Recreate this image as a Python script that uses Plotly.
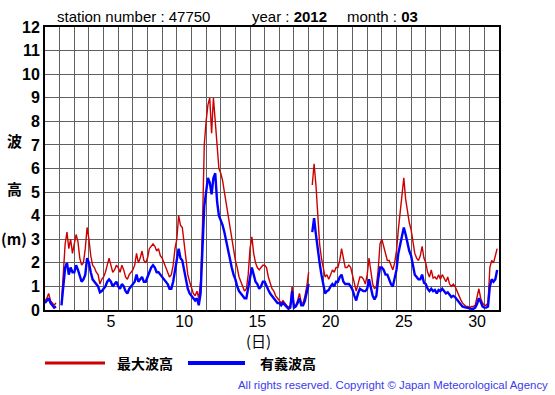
import plotly.graph_objects as go

# ---- data (3-hourly, day 1 00:00 .. day 31 21:00) ----
max_wave = [
    0.4, 0.5, 0.7, 0.4, 0.3, 0.2, 0.3, None,      # 1
    None, 0.3, 1.6, 2.8, 3.3, 2.6, 3.0, 2.4,      # 2
    2.8, 3.2, 2.9, 2.2, 1.9, 2.0, 2.6, 3.5,       # 3
    3.0, 2.3, 1.9, 1.8, 1.6, 1.5, 1.1, 1.3,       # 4
    1.4, 1.6, 1.9, 2.2, 1.9, 1.6, 1.7, 1.9,       # 5
    1.8, 1.6, 1.9, 1.7, 1.4, 1.3, 1.5, 1.6,       # 6
    1.7, 1.9, 2.4, 2.0, 2.2, 2.5, 2.1, 2.0,       # 7
    2.2, 2.6, 2.7, 2.8, 2.7, 2.5, 2.6, 2.3,       # 8
    2.2, 2.0, 1.8, 1.6, 1.4, 1.5, 1.9, 2.6,       # 9
    3.0, 4.0, 3.6, 3.5, 2.8, 2.0, 1.5, 1.2,       # 10
    0.9, 0.7, 0.6, 0.8, 0.5, 1.2, 3.5, 7.0,       # 11
    8.0, 8.7, 9.0, 7.5, 9.0, 8.0, 7.0, 6.0,       # 12
    5.8, 5.5, 5.0, 4.5, 4.0, 3.5, 3.0, 2.5,       # 13
    2.1, 1.8, 1.4, 1.2, 1.0, 0.8, 0.9, 1.5,       # 14
    2.6, 3.1, 2.4, 2.0, 1.8, 1.7, 1.8, 1.9,       # 15
    1.9, 1.8, 1.4, 1.1, 0.9, 0.8, 0.6, 0.5,       # 16
    0.4, 0.3, 0.4, 0.3, 0.15, 0.1, 0.2, 1.0,      # 17
    0.15, 0.2, 0.4, 0.7, 0.3, 0.3, 0.6, 1.0,      # 18
    1.6, None, 5.3, 6.2, 5.3, 3.8, 2.8, 2.2,      # 19
    1.7, 1.4, 1.5, 1.3, 1.5, 1.7, 1.6, 1.8,       # 20
    1.8, 2.1, 2.6, 2.2, 1.8, 1.8, 1.9, 1.8,       # 21
    1.5, 1.1, 0.8, 1.1, 1.4, 1.4, 1.3, 1.1,       # 22
    1.5, 2.2, 1.7, 1.1, 0.9, 1.0, 1.7, 2.8,       # 23
    3.0, 2.7, 2.4, 2.1, 2.1, 1.9, 1.7, 2.0,       # 24
    2.5, 3.4, 4.1, 4.8, 5.6, 4.7, 4.1, 3.7,       # 25
    3.4, 2.8, 2.4, 2.2, 2.1, 2.3, 2.7, 2.2,       # 26
    2.0, 1.6, 1.4, 1.7, 1.35, 1.4, 1.3, 1.5,      # 27
    1.3, 1.5, 1.35, 1.2, 1.4, 1.1, 1.0, 1.1,      # 28
    1.0, 0.8, 0.65, 0.45, 0.3, 0.2, 0.15, 0.15,   # 29
    0.1, 0.15, 0.15, 0.2, 0.5, 0.9, 0.5, 0.3,     # 30
    0.2, 0.2, 0.3, 1.8, 2.1, 2.0, 2.3, 2.6,       # 31
]

sig_wave = [
    0.3, 0.4, 0.5, 0.3, 0.2, 0.1, 0.15, None,     # 1
    None, 0.2, 1.2, 1.8, 2.0, 1.5, 1.8, 1.6,      # 2
    1.6, 1.9, 1.7, 1.4, 1.2, 1.3, 1.5, 2.2,       # 3
    2.0, 1.6, 1.3, 1.2, 1.1, 1.0, 0.75, 0.8,      # 4
    0.9, 1.0, 1.2, 1.3, 1.2, 1.0, 1.1, 1.2,       # 5
    1.0, 0.9, 1.1, 1.0, 0.8, 0.7, 0.9, 1.0,       # 6
    1.1, 1.2, 1.5, 1.2, 1.3, 1.4, 1.2, 1.2,       # 7
    1.4, 1.6, 1.8, 1.9, 1.8, 1.6, 1.6, 1.5,       # 8
    1.4, 1.3, 1.2, 1.1, 0.9, 0.9, 1.2, 1.7,       # 9
    2.2, 2.6, 2.2, 2.1, 1.7, 1.2, 0.9, 0.7,       # 10
    0.6, 0.5, 0.4, 0.5, 0.2, 0.7, 2.5, 4.4,       # 11
    5.0, 5.6, 5.4, 4.9, 5.6, 5.8, 4.6, 4.0,       # 12
    3.8, 3.6, 3.3, 2.9, 2.6, 2.2, 1.8, 1.5,       # 13
    1.3, 1.0, 0.8, 0.7, 0.6, 0.5, 0.5, 1.0,       # 14
    1.4, 1.8, 1.5, 1.2, 1.1, 0.9, 1.0, 1.2,       # 15
    1.2, 1.0, 0.85, 0.7, 0.6, 0.5, 0.4, 0.3,      # 16
    0.3, 0.2, 0.3, 0.2, 0.1, 0.05, 0.1, 0.8,      # 17
    0.1, 0.15, 0.3, 0.5, 0.2, 0.2, 0.4, 0.7,      # 18
    1.1, None, 3.3, 3.9, 3.2, 2.5, 2.0, 1.5,      # 19
    1.0, 0.7, 0.8, 0.85, 1.0, 1.1, 1.0, 1.2,      # 20
    1.2, 1.4, 1.5, 1.2, 1.1, 1.1, 1.1, 1.0,       # 21
    0.85, 0.6, 0.4, 0.7, 0.9, 0.85, 0.8, 0.8,     # 22
    0.9, 1.3, 1.0, 0.6, 0.45, 0.6, 1.3, 1.8,      # 23
    1.8, 1.7, 1.5, 1.5, 1.3, 1.1, 1.0, 1.4,       # 24
    1.7, 2.4, 2.8, 3.1, 3.5, 3.2, 2.8, 2.5,       # 25
    2.3, 1.9, 1.5, 1.4, 1.3, 1.3, 1.5, 1.15,      # 26
    1.1, 0.9, 0.8, 0.9, 0.8, 0.85, 0.7, 0.85,     # 27
    0.8, 0.9, 0.8, 0.7, 0.75, 0.65, 0.55, 0.6,    # 28
    0.55, 0.45, 0.35, 0.2, 0.15, 0.12, 0.1, 0.1,  # 29
    0.05, 0.05, 0.05, 0.1, 0.25, 0.5, 0.35, 0.15, # 30
    0.1, 0.1, 0.15, 1.0, 1.3, 1.2, 1.3, 1.7,      # 31
]

x_tick_days = [5, 10, 15, 20, 25, 30]
y_ticks = list(range(0, 13))
steps_per_day = 8
series_names = ["最大波高", "有義波高"]
title_parts = ["station number : 47750", "year : <b>2012</b>", "month : <b>03</b>"]
copyright_text = "All rights reserved. Copyright © Japan Meteorological Agency"

# ---- figure ----
W, H = 555, 395
L, R, T, B = 45, 499, 27, 310


def px(x):
    return (x - L) / (R - L)


def py(y):
    return (B - y) / (B - T)


t = [1 + i / steps_per_day for i in range(len(max_wave))]

fig = go.Figure()
fig.add_trace(go.Scatter(x=t, y=max_wave, mode="lines", name=series_names[0],
                         line=dict(color="#cc0000", width=1.4), connectgaps=False))
fig.add_trace(go.Scatter(x=t, y=sig_wave, mode="lines", name=series_names[1],
                         line=dict(color="#0000ff", width=2.4), connectgaps=False))

grid = "#606060"
fig.update_layout(
    width=W, height=H,
    margin=dict(l=L, r=W - R, t=T, b=H - B, autoexpand=False),
    paper_bgcolor="white", plot_bgcolor="white",
    showlegend=False,
    font=dict(family="Liberation Sans, Arial, sans-serif", color="black"),
)
fig.update_xaxes(
    range=[1, 32], automargin=False,
    tickmode="array",
    tickvals=[d + 0.5 for d in x_tick_days],
    ticktext=[str(d) for d in x_tick_days],
    ticks="", showgrid=False, zeroline=False,
    showline=True, mirror=True, linecolor="black", linewidth=2,
    tickfont=dict(size=16, color="black"),
    ticklabelstandoff=-4,
    minor=dict(tickmode="array", tickvals=list(range(1, 33)), showgrid=True,
               gridcolor=grid, gridwidth=1, ticks=""),
)
fig.update_yaxes(
    range=[0, 12], automargin=False,
    tickmode="array", tickvals=y_ticks, ticktext=[str(v) for v in y_ticks],
    ticks="", showgrid=True, gridcolor=grid, gridwidth=1, zeroline=False,
    showline=True, mirror=True, linecolor="black", linewidth=2,
    tickfont=dict(size=16, color="black", weight="bold"),
)

ann = []
title_x = [55, 250, 345]
for txt, xx in zip(title_parts, title_x):
    ann.append(dict(text=txt, x=px(xx), y=py(17), xanchor="left", yanchor="middle",
                    font=dict(size=15, color="black")))

cjk = "Noto Sans CJK JP, sans-serif"
for txt, yy in [("波", 140), ("高", 188), ("(m)", 238)]:
    ann.append(dict(text="<b>" + txt + "</b>", x=px(14), y=py(yy), xanchor="center", yanchor="middle",
                    font=dict(size=15, family=cjk, color="black")))
ann.append(dict(text="(日)", x=px(258), y=py(340), xanchor="center", yanchor="middle",
                font=dict(size=15, family=cjk, color="black")))
ann.append(dict(text="<b>" + series_names[0] + "</b>", x=px(115), y=py(363), xanchor="left", yanchor="middle",
                font=dict(size=14, family=cjk, color="black")))
ann.append(dict(text="<b>" + series_names[1] + "</b>", x=px(258), y=py(363), xanchor="left", yanchor="middle",
                font=dict(size=14, family=cjk, color="black")))
ann.append(dict(text=copyright_text, x=px(550), y=py(385), xanchor="right", yanchor="middle",
                font=dict(size=11.4, color="#3a3aee")))
for a in ann:
    a.update(xref="paper", yref="paper", showarrow=False)
fig.update_layout(annotations=ann)

fig.update_layout(shapes=[
    dict(type="line", xref="paper", yref="paper", x0=px(45), x1=px(105), y0=py(363), y1=py(363),
         line=dict(color="#cc0000", width=3)),
    dict(type="line", xref="paper", yref="paper", x0=px(188), x1=px(245), y0=py(363), y1=py(363),
         line=dict(color="#0000ff", width=4)),
])

fig.write_html("out.html", config={"displayModeBar": False},
               post_script="document.body.style.margin='0';document.body.style.overflow='hidden';")
